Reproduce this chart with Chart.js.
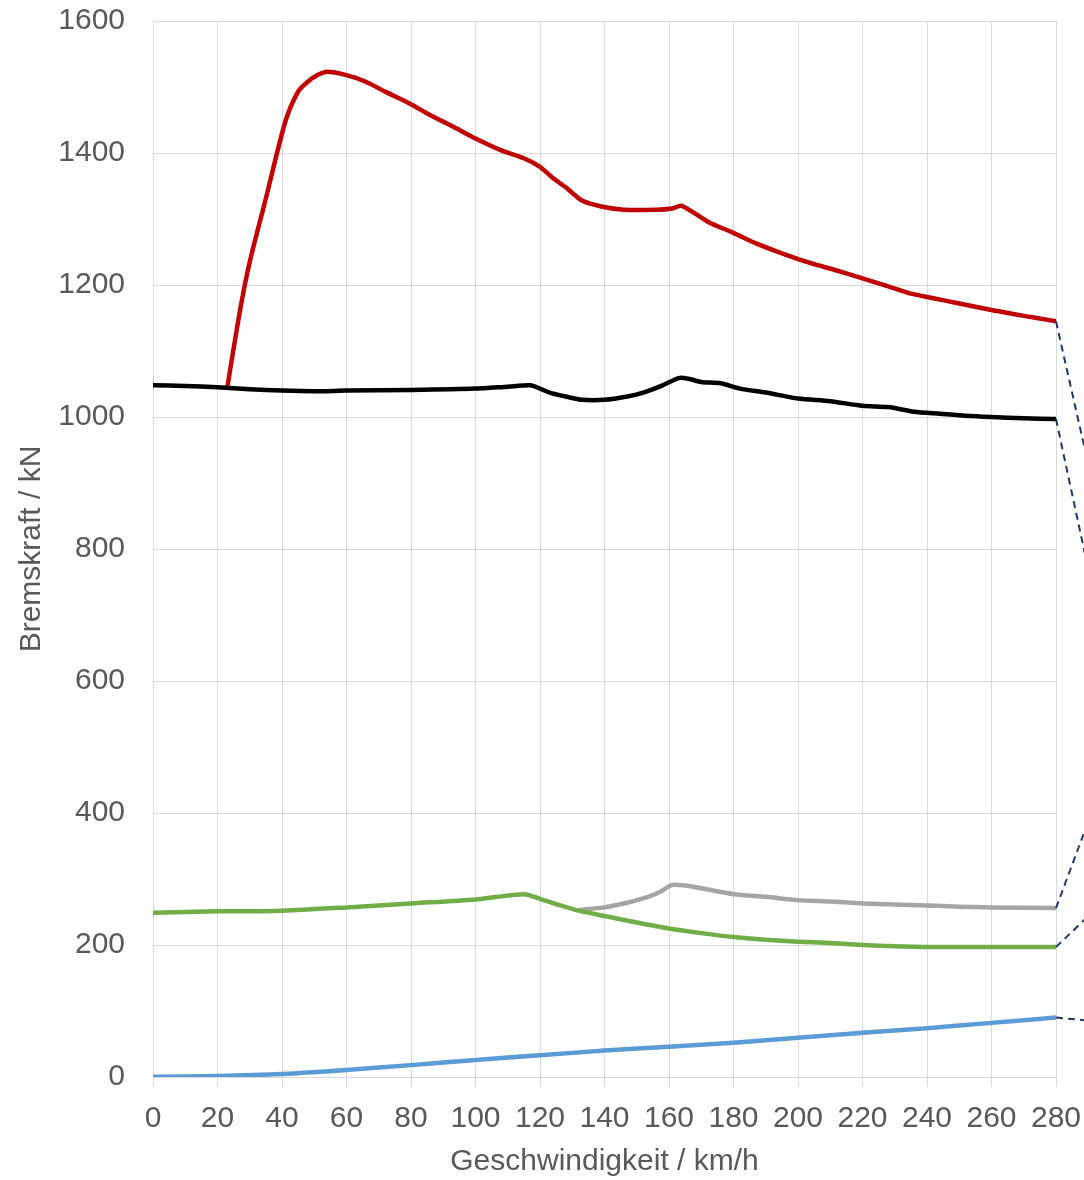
<!DOCTYPE html>
<html>
<head>
<meta charset="utf-8">
<script src="https://cdn.jsdelivr.net/npm/chart.js@4"></script>
<style>
  html, body { margin: 0; padding: 0; background: #fff; }
  #wrap { width: 1084px; height: 1180px; }
</style>
</head>
<body>
<div id="wrap"><canvas id="myChart" width="1084" height="1180"></canvas></div>
<script>
// Bremskraft über Geschwindigkeit
const redSpeed = [23, 27, 30, 35, 41, 45, 48, 51, 54, 60, 66, 72, 80, 85, 93, 100, 108, 115, 120, 124, 128, 133, 139, 146, 156, 161, 164, 172, 180, 187, 195, 204, 212, 220, 228, 235, 242, 250, 260, 268, 274, 280];
const redForce = [1044, 1162, 1235, 1331, 1447, 1493, 1508, 1518, 1523, 1518, 1508, 1493, 1474, 1460, 1440, 1422, 1404, 1392, 1379, 1362, 1348, 1328, 1319, 1314, 1314, 1316, 1320, 1296, 1279, 1263, 1248, 1233, 1222, 1210, 1198, 1187, 1180, 1172, 1162, 1155, 1150, 1145];

const blackSpeed = [0, 10, 20, 30, 40, 50, 60, 80, 100, 110, 117, 120, 123, 128, 133, 140, 147, 152, 158, 163, 166, 170, 176, 182, 190, 200, 210, 220, 228, 236, 244, 252, 260, 270, 280];
const blackForce = [1048, 1047, 1045, 1042, 1040, 1039, 1040, 1041, 1043, 1046, 1048, 1043, 1037, 1031, 1026, 1026, 1031, 1037, 1048, 1059, 1058, 1053, 1051, 1043, 1037, 1028, 1024, 1017, 1015, 1008, 1005, 1002, 1000, 998, 997];

const greySpeed = [132, 140, 147, 153, 157, 161, 165, 170, 180, 190, 200, 210, 220, 240, 250, 260, 280];
const greyForce = [253, 257, 264, 272, 280, 291, 290, 286, 277, 273, 268, 266, 263, 260, 258, 257, 256];

const greenSpeed = [0, 20, 40, 60, 80, 100, 115, 120, 125, 132, 140, 150, 160, 170, 180, 190, 200, 210, 220, 230, 240, 260, 280];
const greenForce = [249, 251, 252, 257, 263, 269, 277, 270, 262, 252, 244, 234, 225, 218, 212, 208, 205, 203, 200, 198, 197, 197, 197];

const blueSpeed = [0, 20, 40, 60, 80, 100, 120, 140, 160, 180, 200, 220, 240, 260, 280];
const blueForce = [0.5, 1.5, 4.5, 10.6, 18, 25.8, 33, 40, 46, 52, 59.6, 67, 74, 82, 90];

// dashed leader lines running out of the plot on the right
const leaderEndSpeed = 289;
const leaderEndForce = [950, 792, 374, 239, 86];

const xTicks = [0, 20, 40, 60, 80, 100, 120, 140, 160, 180, 200, 220, 240, 260, 280];
const yTicks = [0, 200, 400, 600, 800, 1000, 1200, 1400, 1600];

function pts(xs, ys) {
    return xs.map((x, i) => ({x: x, y: ys[i]}));
}

function curve(xs, ys, color) {
    return {
        data: pts(xs, ys),
        borderColor: color,
        borderWidth: 4.5,
        pointRadius: 0,
        tension: 0.25,
        fill: false
    };
}

const series = [
    [redSpeed, redForce],
    [blackSpeed, blackForce],
    [greySpeed, greyForce],
    [greenSpeed, greenForce],
    [blueSpeed, blueForce]
];

const leaders = series.map((s, i) => ({
    data: [
        {x: s[0][s[0].length - 1], y: s[1][s[1].length - 1]},
        {x: leaderEndSpeed, y: leaderEndForce[i]}
    ],
    borderColor: '#1f3864',
    borderWidth: 2,
    borderDash: [7, 5],
    pointRadius: 0,
    tension: 0,
    clip: false
}));

const gridColor = '#d9d9d9';
const textColor = '#595959';
const fontFamily = '"Liberation Sans", Arial, sans-serif';

const ctx = document.getElementById('myChart').getContext('2d');
const myChart = new Chart(ctx, {
    type: 'line',
    data: {
        datasets: leaders.concat([
            curve(blueSpeed, blueForce, '#5b9bd5'),
            curve(greenSpeed, greenForce, '#70ad47'),
            curve(greySpeed, greyForce, '#a5a5a5'),
            curve(blackSpeed, blackForce, '#000000'),
            curve(redSpeed, redForce, '#c00000')
        ])
    },
    options: {
        responsive: false,
        animation: false,
        layout: { padding: { left: 0, right: 28, top: 21, bottom: 0 } },
        plugins: { legend: { display: false }, tooltip: { enabled: false } },
        scales: {
            x: {
                type: 'linear',
                min: 0,
                max: 280,
                afterBuildTicks: (scale) => { scale.ticks = xTicks.map(v => ({value: v})); },
                afterFit: (scale) => {
                    scale.height = 103;
                    scale.paddingLeft = 0;
                    scale.paddingRight = 0;
                },
                grid: { color: gridColor, lineWidth: 1, tickLength: 10, drawTicks: true },
                border: { color: gridColor },
                ticks: { color: textColor, font: { family: fontFamily, size: 30 }, padding: 14, maxRotation: 0, autoSkip: false,
                         callback: (v) => String(v) },
                title: {
                    display: true,
                    text: 'Geschwindigkeit / km/h',
                    color: textColor,
                    font: { family: fontFamily, size: 30 },
                    padding: { top: 0, bottom: 0 }
                }
            },
            y: {
                min: 0,
                max: 1600,
                afterBuildTicks: (scale) => { scale.ticks = yTicks.map(v => ({value: v})); },
                afterFit: (scale) => {
                    scale.width = 153;
                    scale.paddingTop = 0;
                    scale.paddingBottom = 0;
                },
                grid: { color: gridColor, lineWidth: 1, drawTicks: false },
                border: { color: gridColor },
                ticks: { color: textColor, font: { family: fontFamily, size: 30 }, padding: 28,
                         callback: (v) => String(v) },
                title: {
                    display: true,
                    text: 'Bremskraft / kN',
                    color: textColor,
                    font: { family: fontFamily, size: 30 },
                    padding: { top: 14, bottom: 0 }
                }
            }
        }
    }
});
</script>
</body>
</html>
